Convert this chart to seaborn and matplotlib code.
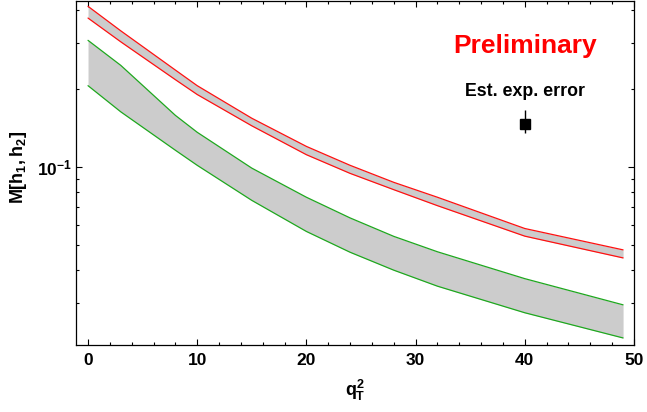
import matplotlib
matplotlib.use("Agg")
import matplotlib.pyplot as plt
import numpy as np
import pandas as pd
import seaborn as sns
from matplotlib.ticker import FixedLocator, FixedFormatter, NullFormatter

# ---- data ----
q2 = [0, 3, 8, 10, 15, 20, 24, 28, 32, 40, 49]
red_upper = [0.415, 0.334, 0.236, 0.2055, 0.154, 0.120, 0.1015, 0.0873, 0.0765, 0.0580, 0.048]
red_lower = [0.374, 0.303, 0.2167, 0.190, 0.144, 0.1115, 0.0945, 0.0818, 0.0710, 0.0542, 0.0447]
green_upper = [0.307, 0.246, 0.158, 0.136, 0.099, 0.0765, 0.0637, 0.0541, 0.0472, 0.0372, 0.0295]
green_lower = [0.2055, 0.163, 0.1160, 0.1015, 0.0744, 0.0565, 0.047, 0.0401, 0.0348, 0.0275, 0.022]

err_x = 40
err_y = 0.1467
err_lo = 0.1355
err_hi = 0.166

x_major = [0, 10, 20, 30, 40, 50]
y_major = [0.1]
y_major_labels = [r"$\mathbf{10^{-1}}$"]
y_minor = [0.03, 0.04, 0.05, 0.06, 0.07, 0.08, 0.09, 0.2, 0.3, 0.4]

# ---- style ----
sns.set_theme(style="ticks")
plt.rcParams["font.family"] = ["Liberation Sans", "DejaVu Sans"]
plt.rcParams["font.weight"] = "bold"
plt.rcParams["mathtext.fontset"] = "custom"
plt.rcParams["mathtext.rm"] = "Liberation Sans:bold"
plt.rcParams["mathtext.it"] = "Liberation Sans:bold"
plt.rcParams["mathtext.bf"] = "Liberation Sans:bold"
plt.rcParams["mathtext.sf"] = "Liberation Sans:bold"
plt.rcParams["axes.unicode_minus"] = True
for k in ["text.color", "axes.labelcolor", "xtick.color", "ytick.color",
          "xtick.labelcolor", "ytick.labelcolor", "axes.edgecolor"]:
    plt.rcParams[k] = "black"

RED = "#ff1010"
GREEN = "#1ea81e"
GRAY = "#cccccc"

fig = plt.figure(figsize=(6.47, 4.12), dpi=100)
ax = fig.add_axes([76 / 647, 1 - 345 / 412, (634 - 76) / 647, (345 - 1) / 412])

df = pd.DataFrame({
    "q2": q2 * 4,
    "M": red_upper + red_lower + green_upper + green_lower,
    "curve": (["red_upper"] * len(q2) + ["red_lower"] * len(q2)
              + ["green_upper"] * len(q2) + ["green_lower"] * len(q2)),
})

ax.fill_between(q2, red_lower, red_upper, color=GRAY, lw=0, zorder=1)
ax.fill_between(q2, green_lower, green_upper, color=GRAY, lw=0, zorder=1)

sns.lineplot(data=df, x="q2", y="M", hue="curve", units="curve", estimator=None,
             palette={"red_upper": RED, "red_lower": RED,
                      "green_upper": GREEN, "green_lower": GREEN},
             linewidth=0.9, legend=False, ax=ax, zorder=2)

ax.errorbar([err_x], [err_y], yerr=[[err_y - err_lo], [err_hi - err_y]],
            fmt="s", color="black", ms=6.5, elinewidth=1.0, capsize=0, zorder=3)

ax.text(40, 0.275, "Preliminary", color="red", fontsize=19, fontweight="bold",
        ha="center", va="baseline")
ax.text(40, 0.188, "Est. exp. error", color="black", fontsize=12.8, fontweight="bold",
        ha="center", va="baseline")

ax.set_yscale("log")
ax.set_xlim(-1.1, 50)
ax.set_ylim(0.02067, 0.435)

ax.xaxis.set_major_locator(FixedLocator(x_major))
ax.xaxis.set_minor_locator(FixedLocator([v for v in range(0, 51, 2) if v % 10 != 0]))
ax.set_xticklabels([str(v) for v in x_major])
ax.yaxis.set_major_locator(FixedLocator(y_major))
ax.yaxis.set_major_formatter(FixedFormatter(y_major_labels))
ax.yaxis.set_minor_locator(FixedLocator(y_minor))
ax.yaxis.set_minor_formatter(NullFormatter())

ax.tick_params(axis="both", which="both", direction="in", top=True, right=True,
               color="black", width=0.8, labelcolor="black")
ax.tick_params(axis="both", which="major", length=4.3, labelsize=12.5, pad=6)
ax.tick_params(axis="y", which="major", pad=3)
ax.tick_params(axis="both", which="minor", length=2.5)
for lab in ax.get_xticklabels() + ax.get_yticklabels():
    lab.set_fontweight("bold")

for sp in ax.spines.values():
    sp.set_visible(True)
    sp.set_color("black")
    sp.set_linewidth(0.9)

ax.set_xlabel(r"$q_T^2$", fontsize=13, labelpad=7)
ax.set_ylabel(r"$M[h_1,h_2]$", fontsize=13)
ax.yaxis.set_label_coords(-0.085, (345 - 167) / 344)

fig.savefig("out.png", dpi=100)
